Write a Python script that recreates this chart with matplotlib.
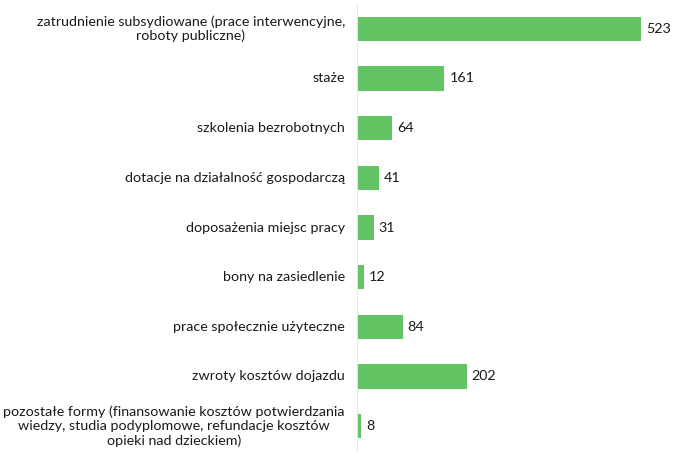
import matplotlib
matplotlib.use("Agg")
import matplotlib.pyplot as plt
from matplotlib.transforms import blended_transform_factory

categories = [
    "zatrudnienie subsydiowane (prace interwencyjne,\nroboty publiczne)",
    "staże",
    "szkolenia bezrobotnych",
    "dotacje na działalność gospodarczą",
    "doposażenia miejsc pracy",
    "bony na zasiedlenie",
    "prace społecznie użyteczne",
    "zwroty kosztów dojazdu",
    "pozostałe formy (finansowanie kosztów potwierdzania\nwiedzy, studia podyplomowe, refundacje kosztów\nopieki nad dzieckiem)",
]
values = [523, 161, 64, 41, 31, 12, 84, 202, 8]

plt.rcParams['font.family'] = ['Lato', 'DejaVu Sans']
fig = plt.figure(figsize=(6.73, 4.55), dpi=100)
ax = fig.add_axes([357/673, 4/455, 1 - 357/673, 447/455])

ypos = list(range(len(categories)))
ax.barh(ypos, values, height=0.49, color="#62c462")
ax.set_ylim(len(categories) - 0.5, -0.5)
ax.set_xlim(0, 523 * 316 / 284)
ax.set_yticks([])
ax.set_xticks([])

trans = blended_transform_factory(fig.transFigure, ax.transData)
for y, c in zip(ypos, categories):
    ax.text(345/673, y, c, transform=trans, ha="right", va="center",
            multialignment="center", fontsize=10.3, color="#1a1a1a")

for s in ["top", "right", "bottom"]:
    ax.spines[s].set_visible(False)
ax.spines["left"].set_color("#e6e6e6")
ax.spines["left"].set_linewidth(0.8)

for y, v in zip(ypos, values):
    ax.text(v + 523 * 5 / 284, y, str(v), va="center", ha="left", fontsize=10.3, color="#1a1a1a")

fig.savefig("out.png", dpi=100)
